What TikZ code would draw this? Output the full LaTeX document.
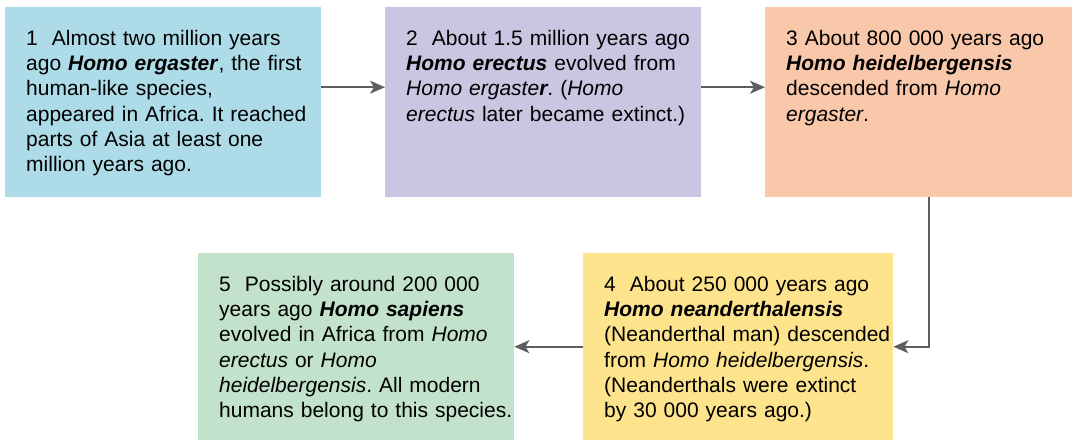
\documentclass[tikz,border=0pt]{standalone}
\usepackage{fontspec}
\setmainfont{Liberation Sans}
\usepackage{xcolor}
\usetikzlibrary{arrows.meta}
\definecolor{ergasterblue}{HTML}{ADDCE8}
\definecolor{erectuslilac}{HTML}{C9C6E2}
\definecolor{heidelpeach}{HTML}{F9C8AB}
\definecolor{neanderyellow}{HTML}{FDE38C}
\definecolor{sapiensgreen}{HTML}{C2E2CB}
\definecolor{linkgray}{HTML}{5E5E60}
\hyphenpenalty=10000
\hfuzz=40pt
\frenchspacing

\begin{document}
\begin{tikzpicture}[x=1pt,y=-1pt,>={Stealth[length=15pt,width=13pt,inset=4pt]},
  stage/.style={anchor=north west,inner xsep=0pt,inner ysep=21pt,text height=17pt,
    align=left,font=\fontsize{21}{25.3}\selectfont,
    execute at begin node={\leftskip=21pt\rightskip=-30pt plus 1fil}},
  toprow/.style={stage,text depth=131pt},
  lowrow/.style={stage,text depth=128pt},
  link/.style={->,draw=linkgray,line width=1.6pt}]
\useasboundingbox (0,0) rectangle (1072,440);
\node[toprow,fill=ergasterblue,text width=316pt] (ergaster) at (5,7) {1~ Almost two million years\\ago \textbf{\textit{Homo ergaster}}, the first\\human-like species,\\appeared in Africa. It reached\\parts of Asia at least one\\million years ago.};
\node[toprow,fill=erectuslilac,text width=316pt] (erectus) at (385,7) {2~ About 1.5 million years ago\\\textbf{\textit{Homo erectus}} evolved from\\\textit{Homo ergaste\textbf{r}}. (\textit{Homo}\\\textit{erectus} later became extinct.)};
\node[toprow,fill=heidelpeach,text width=307pt] (heidel) at (765,7) {3 About 800 000 years ago\\\textbf{\textit{Homo heidelbergensis}}\\descended from \textit{Homo}\\\textit{ergaster}.};
\node[lowrow,fill=neanderyellow,text width=310pt] (neander) at (583,253) {4~ About 250 000 years ago\\\textbf{\textit{Homo neanderthalensis}}\\(Neanderthal man) descended\\from \textit{Homo heidelbergensis}.\\(Neanderthals were extinct\\by 30 000 years ago.)};
\node[lowrow,fill=sapiensgreen,text width=316pt] (sapiens) at (198,253) {5~ Possibly around 200 000\\years ago \textbf{\textit{Homo sapiens}}\\evolved in Africa from \textit{Homo}\\\textit{erectus} or \textit{Homo}\\\textit{heidelbergensis}. All modern\\humans belong to this species.};
\draw[link] ([yshift=15pt]ergaster.east) -- ([yshift=15pt]erectus.west);
\draw[link] ([yshift=15pt]erectus.east) -- ([yshift=15pt]heidel.west);
\draw[link] ([xshift=10pt]heidel.south) |- (neander.east);
\draw[link] (neander.west) -- (sapiens.east);
\end{tikzpicture}
\end{document}
